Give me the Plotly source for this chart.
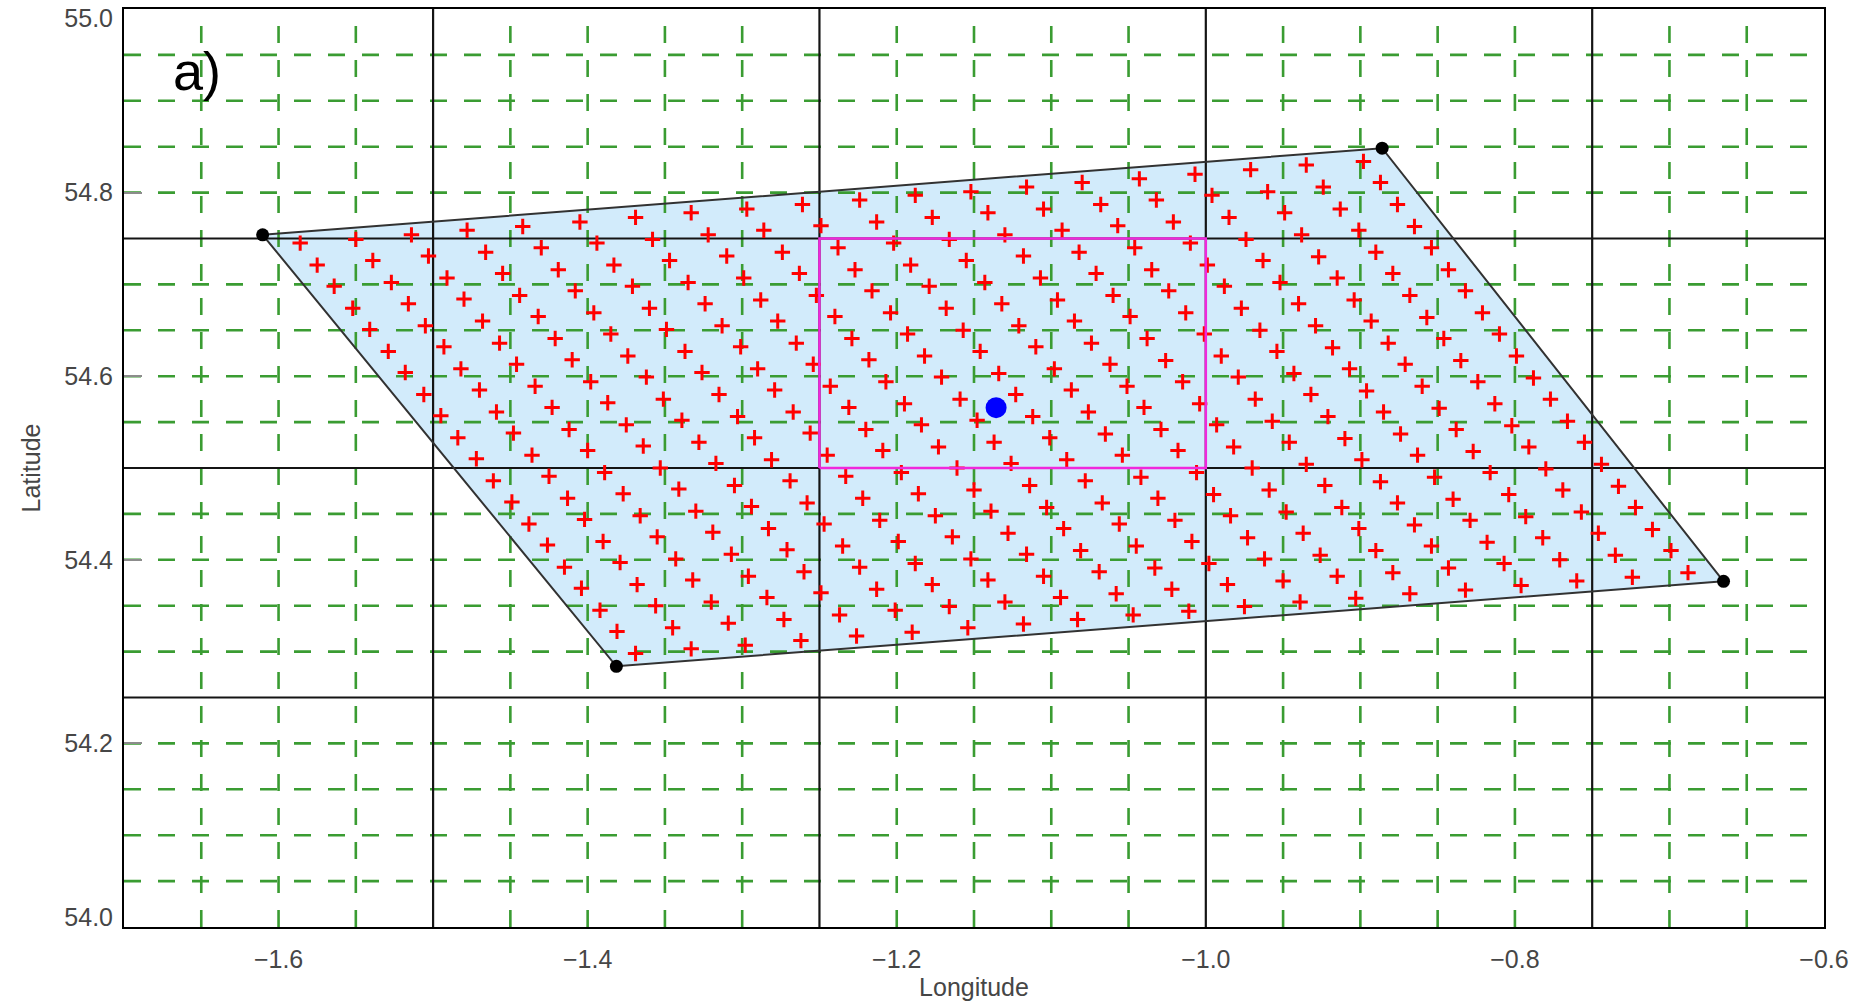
import plotly.graph_objects as go

# ---------------- data ----------------
lon_range = [-1.7, -0.6]
lat_range = [54.0, 55.0]
lon_ticks = [-1.6, -1.4, -1.2, -1.0, -0.8, -0.6]
lat_ticks = [54.0, 54.2, 54.4, 54.6, 54.8, 55.0]
lat_tick_text = ["54.0", "54.2", "54.4", "54.6", "54.8", "55.0"]
# IDL draws the end labels nudged inside the frame
lat_label_pos = [54.0103, 54.2, 54.4, 54.6, 54.8, 54.9897]

major_lon = [-1.5, -1.25, -1.0, -0.75]
major_lat = [54.25, 54.5, 54.75]
minor_lon = [-1.65, -1.6, -1.55, -1.45, -1.4, -1.35, -1.3, -1.2, -1.15, -1.1,
             -1.05, -0.95, -0.9, -0.85, -0.8, -0.7, -0.65]
minor_lat = [54.05, 54.1, 54.15, 54.2, 54.3, 54.35, 54.4, 54.45, 54.55, 54.6,
             54.65, 54.7, 54.8, 54.85, 54.9, 54.95]

# footprint corners (black dots)
corner_lon = [-1.6103, -0.8859, -0.6650, -1.3814]
corner_lat = [54.7540, 54.8484, 54.3765, 54.2840]

# magenta box
box_lon = [-1.25, -1.0]
box_lat = [54.5, 54.75]

# blue centre point
center_lon = [-1.1357]
center_lat = [54.5657]

# red crosses (20 rows of 20)
cross_lon = [
    -1.586, -1.550, -1.514, -1.478, -1.442, -1.405, -1.369, -1.333, -1.297, -1.261, -1.224, -1.188, -1.152, -1.116, -1.080, -1.043, -1.007, -0.971, -0.935, -0.898,
    -1.575, -1.539, -1.503, -1.466, -1.430, -1.394, -1.358, -1.322, -1.286, -1.249, -1.213, -1.177, -1.141, -1.105, -1.068, -1.032, -0.996, -0.960, -0.924, -0.887,
    -1.564, -1.527, -1.491, -1.455, -1.419, -1.383, -1.347, -1.310, -1.274, -1.238, -1.202, -1.166, -1.130, -1.093, -1.057, -1.021, -0.985, -0.949, -0.913, -0.876,
    -1.552, -1.516, -1.480, -1.444, -1.408, -1.371, -1.335, -1.299, -1.263, -1.227, -1.191, -1.155, -1.118, -1.082, -1.046, -1.010, -0.974, -0.938, -0.901, -0.865,
    -1.541, -1.505, -1.468, -1.432, -1.396, -1.360, -1.324, -1.288, -1.252, -1.216, -1.179, -1.143, -1.107, -1.071, -1.035, -0.999, -0.963, -0.927, -0.890, -0.854,
    -1.529, -1.493, -1.457, -1.421, -1.385, -1.349, -1.313, -1.277, -1.240, -1.204, -1.168, -1.132, -1.096, -1.060, -1.024, -0.988, -0.952, -0.915, -0.879, -0.843,
    -1.518, -1.482, -1.446, -1.410, -1.374, -1.337, -1.301, -1.265, -1.229, -1.193, -1.157, -1.121, -1.085, -1.049, -1.013, -0.977, -0.940, -0.904, -0.868, -0.832,
    -1.506, -1.470, -1.434, -1.398, -1.362, -1.326, -1.290, -1.254, -1.218, -1.182, -1.146, -1.110, -1.074, -1.038, -1.001, -0.965, -0.929, -0.893, -0.857, -0.821,
    -1.495, -1.459, -1.423, -1.387, -1.351, -1.315, -1.279, -1.243, -1.207, -1.171, -1.134, -1.098, -1.062, -1.026, -0.990, -0.954, -0.918, -0.882, -0.846, -0.810,
    -1.484, -1.448, -1.412, -1.375, -1.339, -1.303, -1.267, -1.231, -1.195, -1.159, -1.123, -1.087, -1.051, -1.015, -0.979, -0.943, -0.907, -0.871, -0.835, -0.799,
    -1.472, -1.436, -1.400, -1.364, -1.328, -1.292, -1.256, -1.220, -1.184, -1.148, -1.112, -1.076, -1.040, -1.004, -0.968, -0.932, -0.896, -0.860, -0.824, -0.788,
    -1.461, -1.425, -1.389, -1.353, -1.317, -1.281, -1.245, -1.209, -1.173, -1.137, -1.101, -1.065, -1.029, -0.993, -0.957, -0.921, -0.885, -0.849, -0.813, -0.777,
    -1.449, -1.413, -1.377, -1.341, -1.305, -1.269, -1.233, -1.197, -1.161, -1.126, -1.090, -1.054, -1.018, -0.982, -0.946, -0.910, -0.874, -0.838, -0.802, -0.766,
    -1.438, -1.402, -1.366, -1.330, -1.294, -1.258, -1.222, -1.186, -1.150, -1.114, -1.078, -1.042, -1.006, -0.970, -0.935, -0.899, -0.863, -0.827, -0.791, -0.755,
    -1.426, -1.390, -1.355, -1.319, -1.283, -1.247, -1.211, -1.175, -1.139, -1.103, -1.067, -1.031, -0.995, -0.959, -0.923, -0.887, -0.852, -0.816, -0.780, -0.744,
    -1.415, -1.379, -1.343, -1.307, -1.271, -1.235, -1.199, -1.164, -1.128, -1.092, -1.056, -1.020, -0.984, -0.948, -0.912, -0.876, -0.840, -0.804, -0.769, -0.733,
    -1.404, -1.368, -1.332, -1.296, -1.260, -1.224, -1.188, -1.152, -1.116, -1.081, -1.045, -1.009, -0.973, -0.937, -0.901, -0.865, -0.829, -0.793, -0.757, -0.722,
    -1.392, -1.356, -1.320, -1.284, -1.249, -1.213, -1.177, -1.141, -1.105, -1.069, -1.033, -0.998, -0.962, -0.926, -0.890, -0.854, -0.818, -0.782, -0.746, -0.711,
    -1.381, -1.345, -1.309, -1.273, -1.237, -1.201, -1.166, -1.130, -1.094, -1.058, -1.022, -0.986, -0.950, -0.915, -0.879, -0.843, -0.807, -0.771, -0.735, -0.699,
    -1.369, -1.333, -1.298, -1.262, -1.226, -1.190, -1.154, -1.118, -1.083, -1.047, -1.011, -0.975, -0.939, -0.903, -0.868, -0.832, -0.796, -0.760, -0.724, -0.688,
]
cross_lat = [
    54.745, 54.749, 54.754, 54.759, 54.763, 54.768, 54.773, 54.778, 54.782, 54.787, 54.792, 54.797, 54.801, 54.806, 54.811, 54.815, 54.820, 54.825, 54.830, 54.834,
    54.721, 54.726, 54.731, 54.735, 54.740, 54.745, 54.749, 54.754, 54.759, 54.764, 54.768, 54.773, 54.778, 54.782, 54.787, 54.792, 54.797, 54.801, 54.806, 54.811,
    54.698, 54.702, 54.707, 54.712, 54.716, 54.721, 54.726, 54.731, 54.735, 54.740, 54.745, 54.749, 54.754, 54.759, 54.764, 54.768, 54.773, 54.778, 54.782, 54.787,
    54.674, 54.679, 54.684, 54.688, 54.693, 54.698, 54.702, 54.707, 54.712, 54.716, 54.721, 54.726, 54.731, 54.735, 54.740, 54.745, 54.749, 54.754, 54.759, 54.763,
    54.651, 54.655, 54.660, 54.665, 54.669, 54.674, 54.679, 54.683, 54.688, 54.693, 54.698, 54.702, 54.707, 54.712, 54.716, 54.721, 54.726, 54.730, 54.735, 54.740,
    54.627, 54.632, 54.636, 54.641, 54.646, 54.651, 54.655, 54.660, 54.665, 54.669, 54.674, 54.679, 54.683, 54.688, 54.693, 54.698, 54.702, 54.707, 54.712, 54.716,
    54.604, 54.608, 54.613, 54.618, 54.622, 54.627, 54.632, 54.636, 54.641, 54.646, 54.650, 54.655, 54.660, 54.665, 54.669, 54.674, 54.679, 54.683, 54.688, 54.693,
    54.580, 54.585, 54.589, 54.594, 54.599, 54.604, 54.608, 54.613, 54.618, 54.622, 54.627, 54.632, 54.636, 54.641, 54.646, 54.650, 54.655, 54.660, 54.664, 54.669,
    54.557, 54.561, 54.566, 54.571, 54.575, 54.580, 54.585, 54.589, 54.594, 54.599, 54.603, 54.608, 54.613, 54.617, 54.622, 54.627, 54.631, 54.636, 54.641, 54.646,
    54.533, 54.538, 54.542, 54.547, 54.552, 54.556, 54.561, 54.566, 54.570, 54.575, 54.580, 54.585, 54.589, 54.594, 54.599, 54.603, 54.608, 54.613, 54.617, 54.622,
    54.510, 54.514, 54.519, 54.524, 54.528, 54.533, 54.538, 54.542, 54.547, 54.552, 54.556, 54.561, 54.566, 54.570, 54.575, 54.580, 54.584, 54.589, 54.594, 54.598,
    54.486, 54.491, 54.495, 54.500, 54.505, 54.509, 54.514, 54.519, 54.523, 54.528, 54.533, 54.537, 54.542, 54.547, 54.551, 54.556, 54.561, 54.565, 54.570, 54.575,
    54.463, 54.467, 54.472, 54.477, 54.481, 54.486, 54.491, 54.495, 54.500, 54.505, 54.509, 54.514, 54.519, 54.523, 54.528, 54.532, 54.537, 54.542, 54.546, 54.551,
    54.439, 54.444, 54.448, 54.453, 54.458, 54.462, 54.467, 54.472, 54.476, 54.481, 54.486, 54.490, 54.495, 54.500, 54.504, 54.509, 54.514, 54.518, 54.523, 54.528,
    54.416, 54.420, 54.425, 54.430, 54.434, 54.439, 54.443, 54.448, 54.453, 54.457, 54.462, 54.467, 54.471, 54.476, 54.481, 54.485, 54.490, 54.495, 54.499, 54.504,
    54.392, 54.397, 54.401, 54.406, 54.411, 54.415, 54.420, 54.425, 54.429, 54.434, 54.439, 54.443, 54.448, 54.452, 54.457, 54.462, 54.466, 54.471, 54.476, 54.480,
    54.369, 54.373, 54.378, 54.382, 54.387, 54.392, 54.396, 54.401, 54.406, 54.410, 54.415, 54.420, 54.424, 54.429, 54.434, 54.438, 54.443, 54.447, 54.452, 54.457,
    54.345, 54.350, 54.354, 54.359, 54.364, 54.368, 54.373, 54.378, 54.382, 54.387, 54.391, 54.396, 54.401, 54.405, 54.410, 54.415, 54.419, 54.424, 54.429, 54.433,
    54.322, 54.326, 54.331, 54.335, 54.340, 54.345, 54.349, 54.354, 54.359, 54.363, 54.368, 54.373, 54.377, 54.382, 54.386, 54.391, 54.396, 54.400, 54.405, 54.410,
    54.298, 54.303, 54.307, 54.312, 54.317, 54.321, 54.326, 54.330, 54.335, 54.340, 54.344, 54.349, 54.354, 54.358, 54.363, 54.367, 54.372, 54.377, 54.381, 54.386,
]

panel_label = "a)"
x_title = "Longitude"
y_title = "Latitude"

# ---------------- styles ----------------
GREEN = "rgb(58,156,50)"
FILL = "rgb(210,235,251)"
FONT = "Liberation Sans, Arial, sans-serif"

fig = go.Figure()

# footprint fill
fig.add_trace(go.Scatter(x=corner_lon + corner_lon[:1], y=corner_lat + corner_lat[:1],
                         mode="lines", fill="toself", fillcolor=FILL,
                         line=dict(width=0), hoverinfo="skip", showlegend=False))

# green dashed grid
gx, gy = [], []
for v in minor_lon:
    gx += [v, v, None]
    gy += [lat_range[0], lat_range[1], None]
for v in minor_lat:
    gx += [lon_range[0], lon_range[1], None]
    gy += [v, v, None]
fig.add_trace(go.Scatter(x=gx, y=gy, mode="lines",
                         line=dict(color=GREEN, width=2.6, dash="17px,17px"),
                         hoverinfo="skip", showlegend=False))

# black solid grid
bx, by = [], []
for v in major_lon:
    bx += [v, v, None]
    by += [lat_range[0], lat_range[1], None]
for v in major_lat:
    bx += [lon_range[0], lon_range[1], None]
    by += [v, v, None]
fig.add_trace(go.Scatter(x=bx, y=by, mode="lines",
                         line=dict(color="rgb(20,20,20)", width=2.2),
                         hoverinfo="skip", showlegend=False))

# red crosses
fig.add_trace(go.Scatter(x=cross_lon, y=cross_lat, mode="markers",
                         marker=dict(symbol="cross-thin", size=11,
                                     line=dict(color="rgb(255,0,0)", width=3)),
                         showlegend=False))

# footprint outline
fig.add_trace(go.Scatter(x=corner_lon + corner_lon[:1], y=corner_lat + corner_lat[:1],
                         mode="lines", line=dict(color="rgb(50,50,50)", width=2),
                         hoverinfo="skip", showlegend=False))

# magenta box
fig.add_trace(go.Scatter(x=[box_lon[0], box_lon[1], box_lon[1], box_lon[0], box_lon[0]],
                         y=[box_lat[0], box_lat[0], box_lat[1], box_lat[1], box_lat[0]],
                         mode="lines", line=dict(color="rgb(240,40,220)", width=2.5),
                         hoverinfo="skip", showlegend=False))

# corner dots
fig.add_trace(go.Scatter(x=corner_lon, y=corner_lat, mode="markers",
                         marker=dict(color="black", size=13), showlegend=False))

# centre point
fig.add_trace(go.Scatter(x=center_lon, y=center_lat, mode="markers",
                         marker=dict(color="rgb(0,0,255)", size=21), showlegend=False))

# invisible trace that carries the label axis
fig.add_trace(go.Scatter(x=[None], y=[None], yaxis="y2", mode="markers",
                         hoverinfo="skip", showlegend=False))

fig.update_layout(
    width=1868, height=1004,
    margin=dict(l=124, r=44, t=9, b=77, autoexpand=False),
    plot_bgcolor="white", paper_bgcolor="white",
    font=dict(family=FONT, size=25, color="rgb(70,70,70)"),
    xaxis=dict(range=lon_range, tickvals=lon_ticks, tickformat=".1f",
               showgrid=False, zeroline=False, automargin=False,
               showline=True, linecolor="black", linewidth=2, mirror=True,
               ticks="", ticklabelstandoff=9,
               title=dict(text=x_title, standoff=2, font=dict(size=25))),
    yaxis=dict(range=lat_range, tickvals=lat_ticks, showticklabels=False,
               showgrid=False, zeroline=False, automargin=False,
               showline=True, linecolor="black", linewidth=2, mirror=True,
               ticks="inside", ticklen=18, tickcolor="rgb(140,140,140)", tickwidth=2),
    yaxis2=dict(range=lat_range, overlaying="y", side="left", anchor="x",
                tickvals=lat_label_pos, ticktext=lat_tick_text, automargin=False,
                showgrid=False, zeroline=False, showline=False, ticks="",
                ticklabelstandoff=10, ticklabeloverflow="allow",
                title=dict(text=y_title, standoff=16, font=dict(size=25))),
    annotations=[dict(text=panel_label, x=-1.6527, y=54.933, xref="x", yref="y",
                      showarrow=False, font=dict(size=54, color="black", family=FONT))],
)

fig.write_html("out.html", config={"displayModeBar": False},
               post_script="document.body.style.margin='0';document.body.style.overflow='hidden';")
